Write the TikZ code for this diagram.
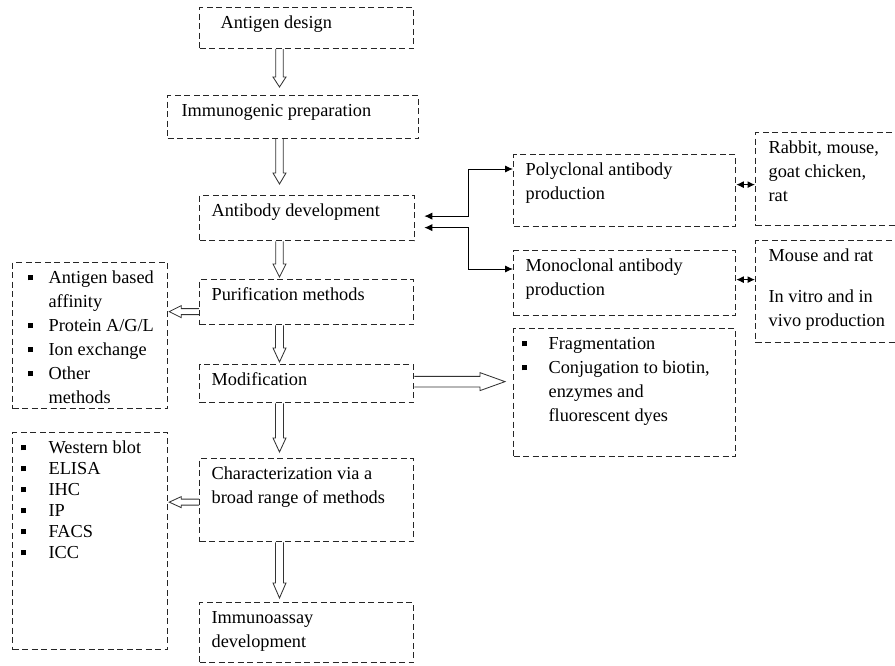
\documentclass[tikz,border=0pt]{standalone}
\usepackage{fontspec}
\setmainfont{Liberation Serif}
\usetikzlibrary{calc}
\usetikzlibrary{arrows.meta}
\tikzstyle{block} = [draw=black!85, dash pattern=on 6pt off 3.5pt, line width=1.25pt,
	inner sep=0pt, anchor=north west,
	font=\fontsize{18.3}{24}\selectfont]
\tikzstyle{link} = [line width=0.9pt, {Latex[length=8pt,width=7pt]}-{Latex[length=8pt,width=7pt]}]
\tikzstyle{short link} = [line width=1pt, {Latex[length=7.5pt,width=7pt]}-{Latex[length=7.5pt,width=7pt]}]
\tikzstyle{hollow} = [draw=black!80, line width=0.85pt, line join=miter]
% dashed box: name, left, top, right, bottom, text
\newcommand{\dbox}[6]{\node[block] (#1) at (#2,#3)
	{\parbox[c][\dimexpr#5pt-#3pt\relax][t]{\dimexpr#4pt-#2pt\relax}{\vspace*{4pt}#6}};}
\newcommand{\txtin}[1]{\leftskip=#1pt\strut}
\newcommand{\sqitem}[3]{\par\hangindent=#2\hangafter=1\noindent
	\makebox[#2][l]{\hspace*{#1}\rule[3pt]{5pt}{5pt}\strut}#3}
% open double arrow: from, to, half shaft, half head, head length
\newcommand{\hollowarrow}[5]{\coordinate (ha) at (#1);
	\coordinate (hb) at (#2);
	\coordinate (hh) at ($(hb)!#5!(ha)$);
	\draw[hollow] ($(ha)!#3!90:(hb)$) -- ($(hh)!#3!90:(hb)$) -- ($(hh)!#4!90:(hb)$)
	-- (hb) -- ($(hh)!#4!-90:(hb)$) -- ($(hh)!#3!-90:(hb)$) -- ($(ha)!#3!-90:(hb)$)}

\begin{document}
\begin{tikzpicture}[x=1pt, y=-1pt]
	\clip (0,0) rectangle (895,666);
	
	\dbox{anti}{199}{7}{413}{48}{\txtin{21}Antigen design}
	\dbox{immu}{167}{95}{418}{138}{\txtin{14}Immunogenic preparation}
	\dbox{abdev}{199}{195}{414}{240}{\txtin{12}Antibody development}
	\dbox{purif}{199}{279}{413}{324}{\txtin{12}Purification methods}
	\dbox{mod}{199}{364}{413}{402}{\txtin{12}Modification}
	\dbox{char}{199}{458}{413}{541}{\txtin{12}Characterization via a\\broad range of methods}
	\dbox{immuno}{199}{602}{413}{662}{\txtin{12}Immunoassay\\development}
	
	\dbox{poly}{513}{154}{735}{226}{\txtin{12}Polyclonal antibody\\production}
	\dbox{mono}{513}{250}{735}{315}{\txtin{12}Monoclonal antibody\\production}
	\dbox{rabbit}{755}{132}{905}{225}{\txtin{13}Rabbit, mouse,\\goat chicken,\\rat}
	\dbox{mouse}{755}{240}{905}{342}{\txtin{13}Mouse and rat\\[17pt]In vitro and in\\vivo production}
	
	\dbox{frag}{513}{328}{735}{456}{\sqitem{8pt}{35pt}{Fragmentation}%
		\sqitem{8pt}{35pt}{Conjugation to biotin,\\enzymes and\\fluorescent dyes}}
	\dbox{plist}{12}{262}{167}{408}{\sqitem{15pt}{36pt}{Antigen based\\affinity}%
		\sqitem{15pt}{36pt}{Protein A/G/L}\sqitem{15pt}{36pt}{Ion exchange}%
		\sqitem{15pt}{36pt}{Other\\methods}}
	\dbox{clist}{12}{432}{167}{649}{\vspace*{2pt}\fontsize{18.3}{21}\selectfont
		\sqitem{8pt}{36pt}{Western blot}\sqitem{8pt}{36pt}{ELISA}%
		\sqitem{8pt}{36pt}{IHC}\sqitem{8pt}{36pt}{IP}%
		\sqitem{8pt}{36pt}{FACS}\sqitem{8pt}{36pt}{ICC}}
	
	% main column arrows
	\coordinate (spine) at (279.5,0);
	\hollowarrow{anti.south -| spine}{$(immu.north -| spine)+(0,-8)$}{3.7pt}{6.5pt}{10pt};
	\hollowarrow{immu.south -| spine}{$(abdev.north -| spine)+(0,-11)$}{3.7pt}{6.5pt}{11pt};
	\hollowarrow{abdev.south -| spine}{$(purif.north -| spine)+(0,-2)$}{3.7pt}{6.5pt}{13pt};
	\hollowarrow{purif.south -| spine}{$(mod.north -| spine)+(0,-2)$}{4pt}{6.5pt}{14pt};
	\hollowarrow{mod.south -| spine}{$(char.north -| spine)+(0,-6)$}{4pt}{6.5pt}{14pt};
	\hollowarrow{char.south -| spine}{$(immuno.north -| spine)+(0,-4)$}{4pt}{6.5pt}{15pt};
	
	% side arrows
	\hollowarrow{$(purif.west)+(0,9.5)$}{$(plist.east |- purif.west)+(1,9.5)$}{3pt}{6pt}{12pt};
	\hollowarrow{$(char.west)+(0,2)$}{$(clist.east |- char.west)+(1,2)$}{3pt}{5.5pt}{12pt};
	\hollowarrow{$(mod.east)+(0,-2)$}{$(frag.west |- mod.east)+(-8,-2)$}{5.3pt}{9pt}{25pt};
	
	\draw [link] ($(abdev.east)+(9,-2)$) -| ($(poly.north west)+(-45,15)$) -- ($(poly.north west)+(0,15)$);
	\draw [link] ($(abdev.east)+(9,9.5)$) -| ($(mono.north west)+(-45,19)$) -- ($(mono.north west)+(0,19)$);
	\draw [short link] ($(poly.east)+(0,-6)$) -- ($(rabbit.west |- poly.east)+(0,-6)$);
	\draw [short link] ($(mono.east)+(0,-3.5)$) -- ($(mouse.west |- mono.east)+(0,-3.5)$);
\end{tikzpicture}
\end{document}
